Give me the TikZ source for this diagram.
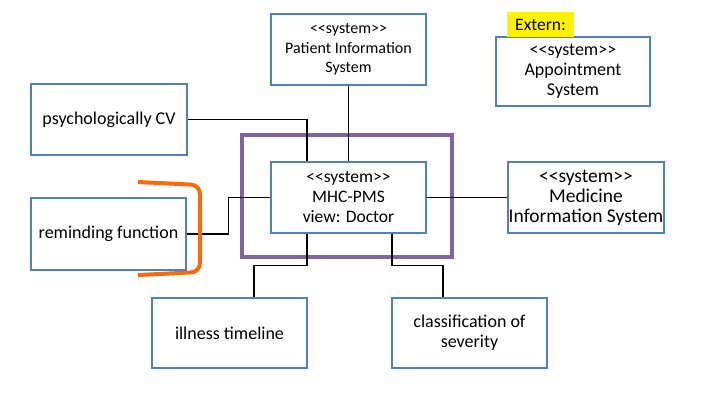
\documentclass[tikz,border=0pt]{standalone}
\usepackage{fontspec}
\setmainfont{Carlito}
\definecolor{boxblue}{RGB}{79,129,189}
\definecolor{frame}{RGB}{128,100,162}
\definecolor{brk}{RGB}{250,105,10}
\newcommand{\stereo}{<\kern0pt<system>\kern0pt>}
\begin{document}
\begin{tikzpicture}[x=1pt,y=-1pt,
  sysbox/.style={draw=boxblue,line width=1.3pt,fill=white,align=center,inner sep=0pt,font=\fontsize{18}{20}\selectfont},
  wire/.style={draw=black,line width=1.3pt}]
\useasboundingbox (0,0) rectangle (720,405);
\fill[white] (0,0) rectangle (720,405);
% purple frame
\draw[frame,line width=4pt] (242,135) rectangle (452,257);
\node[sysbox,minimum width=155pt,minimum height=71pt,font=\fontsize{16}{19.5}\selectfont] (pis) at (348.5,49.5) {\stereo\\Patient Information\\System};
\node[sysbox,minimum width=154pt,minimum height=69pt] (app) at (573,71.5) {\stereo\\Appointment\\System};
\node[fill=yellow,inner sep=0pt,minimum width=67pt,minimum height=25pt,font=\fontsize{17.5}{20}\selectfont] (ext) at (540.5,24.5) {Extern:};
\node[sysbox,minimum width=156pt,minimum height=71pt] (cv) at (109,119.5) {psychologically CV};
\node[sysbox,minimum width=155pt,minimum height=71pt,font=\fontsize{17.5}{20}\selectfont] (mhc) at (348.5,197.5) {\stereo\\MHC-PMS\\view: Doctor};
\node[sysbox,minimum width=156pt,minimum height=71pt,font=\fontsize{19.5}{20}\selectfont] (med) at (586,197.5) {\stereo\\Medicine\\Information System};
\node[sysbox,minimum width=155pt,minimum height=72pt] (rem) at (108.5,234) {reminding function};
\node[sysbox,minimum width=155pt,minimum height=70pt] (ill) at (229.5,333) {illness timeline};
\node[sysbox,minimum width=155pt,minimum height=70pt] (cls) at (469.5,333) {classification of\\severity};
% connectors
\draw[wire] (pis.south) -- (mhc.north);
\draw[wire] (cv.east) -| ([xshift=-41.5pt]mhc.north);
\draw[wire] (mhc.east) -- (med.west);
\draw[wire] (rem.east) -- ++(42,0) |- (mhc.west);
\draw[wire] ([xshift=-41.5pt]mhc.south) -- ++(0,32) -| ([xshift=24.5pt]ill.north);
\draw[wire] ([xshift=43.5pt]mhc.south) -- ++(0,32) -| ([xshift=-26.5pt]cls.north);
% orange bracket
\draw[brk,line width=4pt,rounded corners=9pt] (138,182) -- (200,185) -- (200,272) -- (138,275);
\end{tikzpicture}
\end{document}
